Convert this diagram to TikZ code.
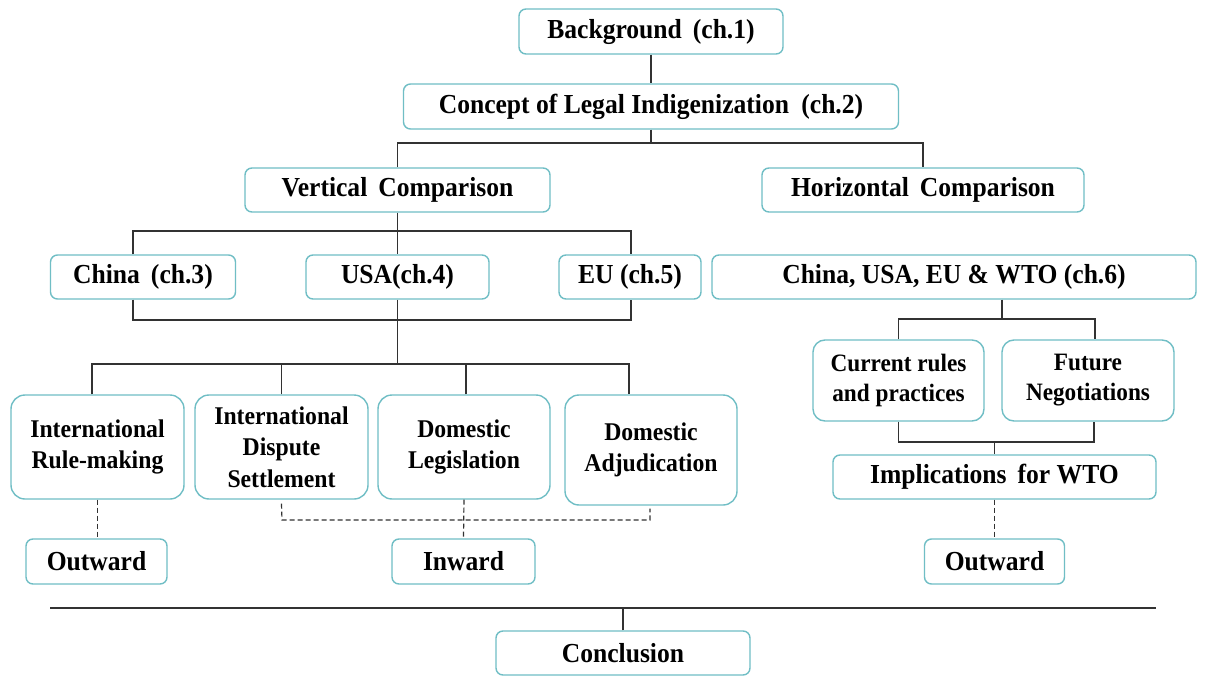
\documentclass[tikz,border=0pt]{standalone}
\usepackage{fontspec}
\setmainfont{Liberation Serif}[FakeStretch=0.93]
\definecolor{boxline}{RGB}{112,190,197}
\definecolor{conn}{RGB}{50,50,50}
\begin{document}
\begin{tikzpicture}[x=1pt,y=-1pt,
  box/.style={draw=boxline,line width=1.4pt,fill=white,rounded corners=7pt,inner sep=0pt,
    align=center,font=\fontsize{27.5}{30}\selectfont\bfseries},
  bigbox/.style={box,rounded corners=14pt,font=\fontsize{25.5}{31.5}\selectfont\bfseries},
  midbox/.style={box,rounded corners=12pt,font=\fontsize{25}{30}\selectfont\bfseries},
  wire/.style={draw=conn,line width=1.3pt},
  dwire/.style={draw=conn,line width=1.2pt,dash pattern=on 5pt off 3pt}]
\useasboundingbox[fill=white] (0,0) rectangle (1208,677);
% nodes
\node[box,minimum width=264pt,minimum height=45pt] (bg) at (651,31.5) {Background\hspace{0.4em}(ch.1)};
\node[box,minimum width=495pt,minimum height=45pt] (concept) at (651,106.5) {Concept of Legal Indigenization\hspace{0.45em}(ch.2)};
\node[box,minimum width=305pt,minimum height=44pt] (vc) at (397.5,190) {Vertical\hspace{0.4em}Comparison};
\node[box,minimum width=322pt,minimum height=44pt] (hc) at (923,190) {Horizontal\hspace{0.4em}Comparison};
\node[box,minimum width=185pt,minimum height=44pt] (china) at (143,277) {China\hspace{0.4em}(ch.3)};
\node[box,minimum width=183pt,minimum height=44pt] (usa) at (397.5,277) {USA(ch.4)};
\node[box,minimum width=142pt,minimum height=44pt] (eu) at (630,277) {EU (ch.5)};
\node[box,minimum width=484pt,minimum height=44pt] (cuew) at (954,277) {China, USA, EU \& WTO (ch.6)};
\node[bigbox,minimum width=173pt,minimum height=104pt] (irm) at (97.5,447) {International\\Rule-making};
\node[bigbox,minimum width=173pt,minimum height=104pt] (ids) at (281.5,447) {International\\Dispute\\Settlement};
\node[bigbox,minimum width=172pt,minimum height=104pt] (dl) at (464,447) {Domestic\\Legislation};
\node[bigbox,minimum width=172pt,minimum height=110pt] (da) at (651,450) {Domestic\\Adjudication};
\node[box,minimum width=141pt,minimum height=45pt] (out1) at (96.5,561.5) {Outward};
\node[box,minimum width=143pt,minimum height=45pt] (inw) at (463.5,561.5) {Inward};
\node[midbox,minimum width=171pt,minimum height=81pt] (cr) at (898.5,380.5) {Current rules\\and practices};
\node[midbox,minimum width=172pt,minimum height=81pt] (fn) at (1088,380.5) {Future\\Negotiations};
\node[box,minimum width=323pt,minimum height=44pt] (impl) at (994.5,477) {Implications\hspace{0.4em}for WTO};
\node[box,minimum width=140pt,minimum height=45pt] (out2) at (994.5,561.5) {Outward};
\node[box,minimum width=254pt,minimum height=44pt] (concl) at (623,653) {Conclusion};
% junction coordinates
\coordinate (j1) at (651,143);
\coordinate (j2) at (397.5,231);
\coordinate (j3) at (397.5,320);
\coordinate (j4) at (397.5,364);
\coordinate (j5) at (1002,319);
\coordinate (j6) at (994.5,442);
\coordinate (dl1) at (282,520);
\coordinate (dr1) at (650,520);
\coordinate (rl) at (50,608);
\coordinate (rr) at (1156,608);
% connectors
\path[wire] (bg.south) -- (concept.north);
\path[wire] (concept.south) -- (j1);
\path[wire] (vc.north) -- (vc.north |- j1) -- (hc.north |- j1) -- (hc.north);
\path[wire] (vc.south) -- (usa.north);
\path[wire] ([xshift=-10pt]china.north) -- ([xshift=-10pt]china.north |- j2) -- ([xshift=1pt]eu.north |- j2) -- ([xshift=1pt]eu.north);
\path[wire] ([xshift=-10pt]china.south) -- ([xshift=-10pt]china.south |- j3) -- ([xshift=1pt]eu.south |- j3) -- ([xshift=1pt]eu.south);
\path[wire] (usa.south) -- (j4);
\path[wire] ([xshift=-5.5pt]irm.north) -- ([xshift=-5.5pt]irm.north |- j4) -- ([xshift=-22pt]da.north |- j4) -- ([xshift=-22pt]da.north);
\path[wire] (ids.north) -- (ids.north |- j4);
\path[wire] ([xshift=2pt]dl.north) -- ([xshift=2pt]dl.north |- j4);
\path[dwire] (irm.south) -- (irm.south |- out1.north);
\path[dwire] ([yshift=-4pt]ids.south) -- (dl1) -- (dr1) -- ([yshift=-3pt]da.south -| dr1);
\path[dwire] (dl.south) -- (inw.north);
\path[wire] ([xshift=48pt]cuew.south) -- (j5);
\path[wire] (cr.north) -- (cr.north |- j5) -- ([xshift=7pt]fn.north |- j5) -- ([xshift=7pt]fn.north);
\path[wire] (cr.south) -- (cr.south |- j6) -- ([xshift=6pt]fn.south |- j6) -- ([xshift=6pt]fn.south);
\path[wire] (j6) -- (impl.north);
\path[dwire] (impl.south) -- (out2.north);
\path[wire] (rl) -- (rr);
\path[wire] (concl.north) -- (concl.north |- rl);
\end{tikzpicture}
\end{document}
